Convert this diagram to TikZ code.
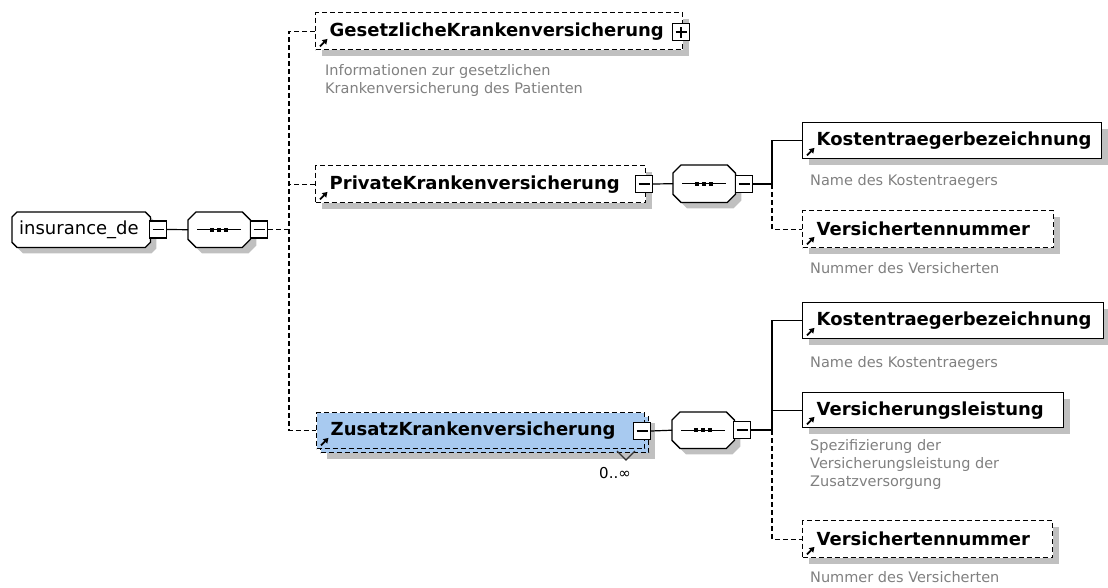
\documentclass[tikz,border=0pt]{standalone}
\usepackage{fontspec}
\setmainfont{DejaVu Sans}
\usetikzlibrary{arrows.meta}

\definecolor{shadowgray}{RGB}{192,192,192}
\definecolor{descgray}{RGB}{128,128,128}
\definecolor{zusblue}{RGB}{168,202,240}

\newcommand\namefont{\fontsize{18}{21}\selectfont\bfseries}
\newcommand\descfont{\fontsize{14.5}{18}\selectfont}
\newcommand\rootfont{\fontsize{18}{21}\selectfont}

% octagonal outline (with shadow) around an empty node
\newcommand\octagon[2]{%
  \path[boxshadow, draw=black, fill=white, line width=1.3pt]
    ([xshift=#2]#1.north west) -- ([xshift=-#2]#1.north east)
    -- ([yshift=-#2]#1.north east) -- ([yshift=#2]#1.south east)
    -- ([xshift=-#2]#1.south east) -- ([xshift=#2]#1.south west)
    -- ([yshift=#2]#1.south west) -- ([yshift=-#2]#1.north west) -- cycle;}

% sequence symbol: a bar with three dots
\newcommand\seqmark[1]{%
  \draw[line width=1.2pt] ([xshift=9pt]#1.west) -- ([xshift=-9pt]#1.east);
  \foreach \d in {-7,0,7}
    \fill ([xshift=\d pt]#1.center) ++(-2.2pt,-2.2pt) rectangle ++(4.4pt,4.4pt);}

% reference arrow in the lower left corner of an element
\newcommand\refmark[1]{%
  \draw[line width=1.8pt, -{Triangle[length=5pt,width=6pt]}]
    ([shift={(5pt,4pt)}]#1.south west) -- ++(7.5pt,7.5pt);}

\tikzset{
  x=1pt, y=-1pt,
  conn/.style={draw=black, line width=1.2pt},
  optconn/.style={conn, dash pattern=on 5pt off 3pt},
  boxshadow/.style={preaction={draw=none, fill=shadowgray,
      transform canvas={shift={(6pt,-6pt)}}}},
  elembase/.style={draw=black, fill=white, line width=1.4pt, anchor=north west,
      inner xsep=14pt, inner ysep=0pt, align=left, font=\namefont},
  elem/.style={elembase, boxshadow},
  optelem/.style={elem, dash pattern=on 5pt off 3pt},
  frame/.style={anchor=north west, inner sep=0pt, draw=none},
  desc/.style={anchor=north west, inner sep=0pt, align=left, font=\descfont,
      text=descgray},
  toggle/.style={draw=black, fill=white, line width=1.2pt, minimum size=17pt,
      inner sep=0pt, shape=rectangle,
      path picture={\draw[line width=1.2pt]
        ([xshift=3pt]path picture bounding box.west) --
        ([xshift=-3pt]path picture bounding box.east);}},
  expander/.style={toggle,
      path picture={\draw[line width=1.2pt]
        ([xshift=3pt]path picture bounding box.west) --
        ([xshift=-3pt]path picture bounding box.east)
        ([yshift=3pt]path picture bounding box.south) --
        ([yshift=-3pt]path picture bounding box.north);}},
}

\begin{document}
\begin{tikzpicture}
\useasboundingbox (0,0) rectangle (1108,587);

% root element
\node[frame, minimum width=138pt, minimum height=35pt] (root) at (12,212) {};
\octagon{root}{5pt}
\node[anchor=west, inner sep=0pt, font=\rootfont] (root-l) at (19,229.5) {insurance\_de};

% sequence compositors
\node[frame, minimum width=62pt, minimum height=35pt] (s1) at (188,212) {};
\octagon{s1}{8pt}\seqmark{s1}
\node[frame, minimum width=62pt, minimum height=37pt] (s2) at (673,165) {};
\octagon{s2}{8pt}\seqmark{s2}
\node[frame, minimum width=62pt, minimum height=36pt] (s3) at (672,412) {};
\octagon{s3}{8pt}\seqmark{s3}

% first level elements
\node[optelem, minimum height=37pt, text width=339pt] (gk) at (315,12) {GesetzlicheKrankenversicherung};
\node[desc] (gk-d) at (325,64) {Informationen zur gesetzlichen\\Krankenversicherung des Patienten};

\node[optelem, minimum height=37pt, text width=302pt] (pk) at (315,165) {PrivateKrankenversicherung};

\node[optelem, fill=zusblue, minimum width=328pt, minimum height=36pt, inner sep=0pt] (zb) at (320,416) {};
\node[elembase, dash pattern=on 5pt off 3pt, fill=zusblue, minimum height=36pt, text width=300pt] (zk) at (316,412) {ZusatzKrankenversicherung};
\node[inner sep=0pt, font=\fontsize{15}{18}\selectfont] (zk-m) at (615,473) {0..∞};

% children of PrivateKrankenversicherung
\node[elem, minimum height=36pt, text width=271pt] (k1) at (802,122) {Kostentraegerbezeichnung};
\node[desc] (k1-d) at (810,174) {Name des Kostentraegers};
\node[optelem, minimum height=37pt, text width=223pt] (v1) at (802,210) {Versichertennummer};
\node[desc] (v1-d) at (810,262) {Nummer des Versicherten};

% children of ZusatzKrankenversicherung
\node[elem, minimum height=36pt, text width=273pt] (k2) at (802,302) {Kostentraegerbezeichnung};
\node[desc] (k2-d) at (810,356) {Name des Kostentraegers};
\node[elem, minimum height=35pt, text width=233pt] (vl) at (802,392) {Versicherungsleistung};
\node[desc] (vl-d) at (810,439) {Spezifizierung der\\Versicherungsleistung der\\Zusatzversorgung};
\node[optelem, minimum height=37pt, text width=222pt] (v2) at (802,520) {Versichertennummer};
\node[desc] (v2-d) at (810,571) {Nummer des Versicherten};

% multiplicity marker
\draw[line width=1.1pt, black!80] (617,451) -- (626,460) -- (635,451);

% connectors
\coordinate (f1) at (289,229.5);
\coordinate (f2) at (772,184);
\coordinate (f3) at (772,430);

\node[toggle] (r-t) at (158,229.5) {};
\node[toggle] (s1-t) at (259,229.5) {};
\node[expander] (gk-t) at (681,32) {};
\node[toggle] (pk-t) at (644,184) {};
\node[toggle] (s2-t) at (744,184) {};
\node[toggle] (zk-t) at (642,431) {};
\node[toggle] (s3-t) at (742,430) {};

\draw[conn] (r-t.east) -- (s1.west);
\draw[optconn] (s1-t.east) -- (f1);
\draw[optconn] (gk.west) -| (f1) |- (zk.west);
\draw[optconn] (pk.west) -- (pk.west -| f1);

\draw[conn] (pk-t.east) -- (s2.west);
\draw[conn] (s2-t.east) -- (f2);
\draw[conn] (f2) |- (k1.west);
\draw[optconn] (f2) |- (v1.west);

\draw[conn] (zk-t.east) -- (s3.west);
\draw[conn] (s3-t.east) -- (f3);
\draw[conn] (f3) |- (k2.west);
\draw[conn] (vl.west -| f3) -- (vl.west);
\draw[optconn] (f3) |- (v2.west);

% reference arrows
\foreach \n in {gk,pk,zk,k1,v1,k2,vl,v2} {\refmark{\n}}
\end{tikzpicture}
\end{document}
